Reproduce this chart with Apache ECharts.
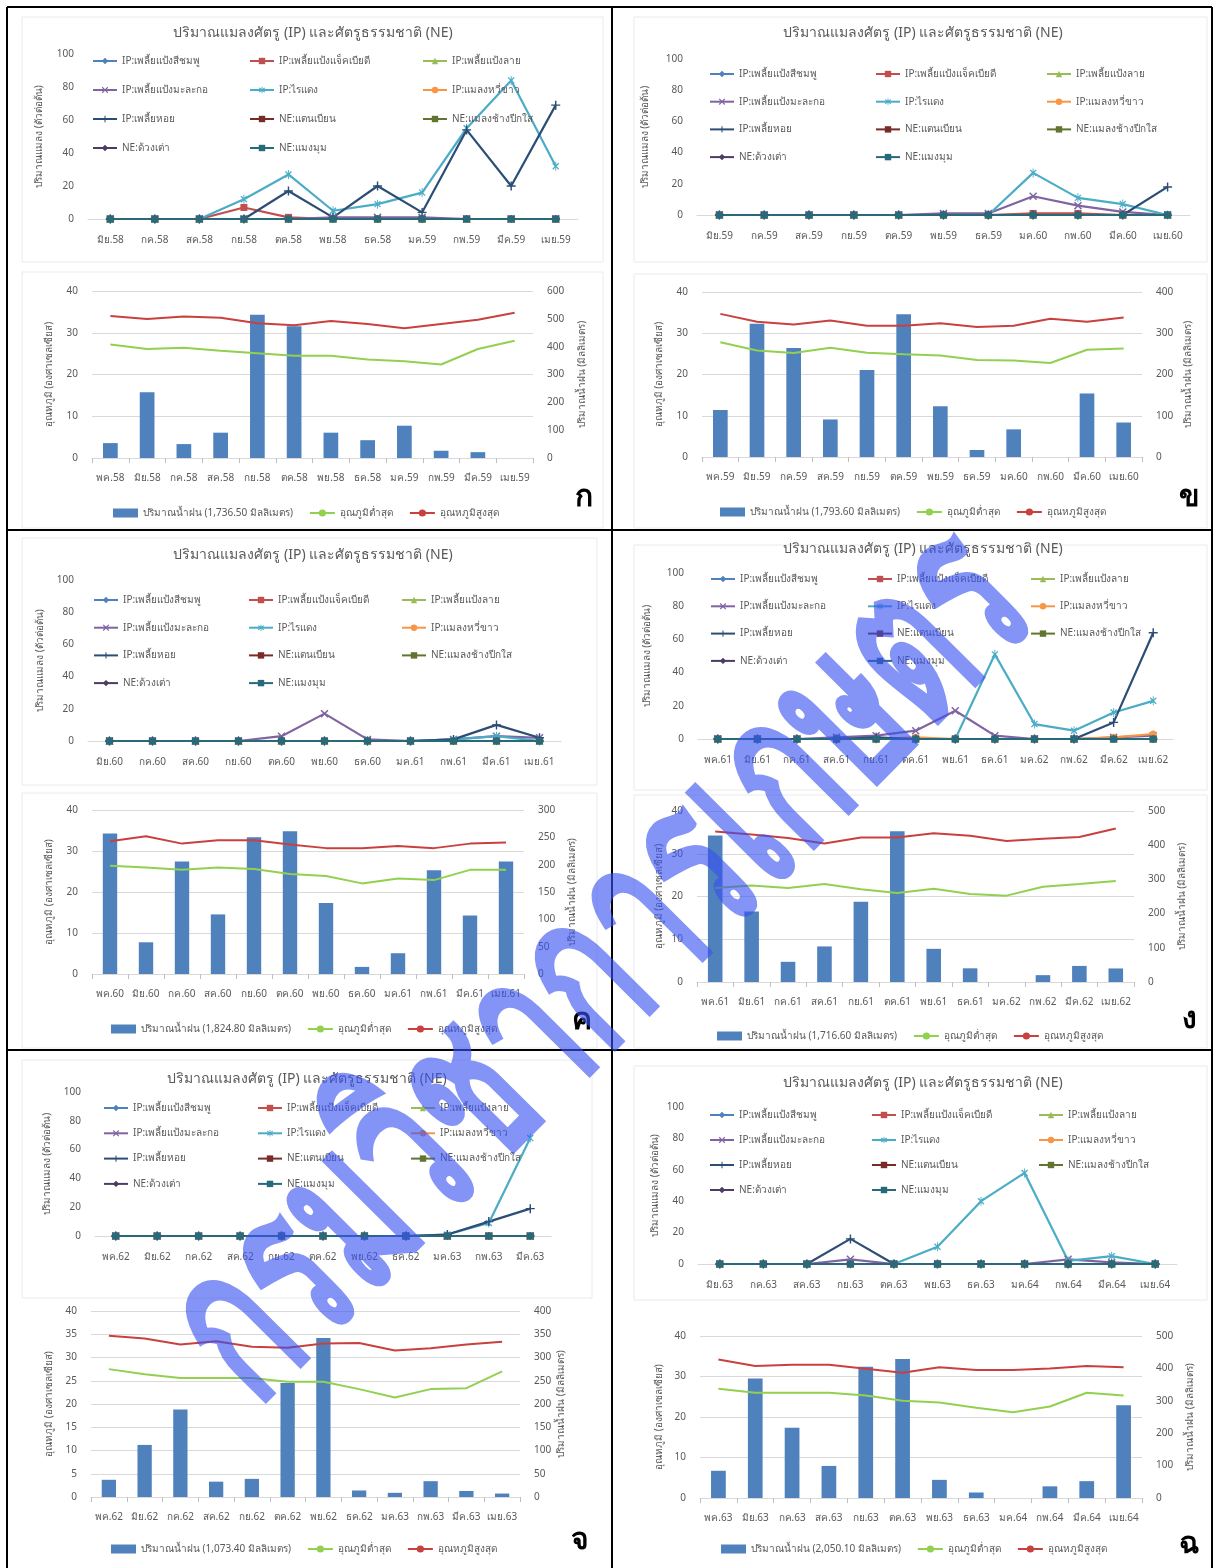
<!DOCTYPE html>
<html><head><meta charset="utf-8">
<script src="https://cdn.jsdelivr.net/npm/echarts@6.0.0/dist/echarts.min.js"></script>
<style>html,body{margin:0;padding:0;background:#fff}#c{width:1215px;height:1568px}</style>
</head><body><div id="c"></div>
<script>
const FONT = '"Noto Sans", "DejaVu Sans", sans-serif';

const PEST_NAMES = ['IP:เพลี้ยแป้งสีชมพู','IP:เพลี้ยแป้งแจ็คเบียดี','IP:เพลี้ยแป้งลาย','IP:เพลี้ยแป้งมะละกอ','IP:ไรแดง','IP:แมลงหวี่ขาว','IP:เพลี้ยหอย','NE:แตนเบียน','NE:แมลงช้างปีกใส','NE:ด้วงเต่า','NE:แมงมุม'];
const TITLE = 'ปริมาณแมลงศัตรู (IP) และศัตรูธรรมชาติ (NE)';
const TMIN_NAME = 'อุณภูมิต่ำสุด';
const TMAX_NAME = 'อุณหภูมิสูงสุด';
const PANEL_LETTERS = ['ก','ข','ค','ง','จ','ฉ'];

const ZERO11 = [0,0,0,0,0,0,0,0,0,0,0];
const ZERO12 = [0,0,0,0,0,0,0,0,0,0,0,0];

// ---- Panel ก ----
const catsTopA = ['มิย.58','กค.58','สค.58','กย.58','ตค.58','พย.58','ธค.58','มค.59','กพ.59','มีค.59','เมย.59'];
const aJack   = [0,0,0,7,1,0,0,0,0,0,0];
const aPapaya = [0,0,0,0,0,1,1,1,0,0,0];
const aMite   = [0,0,0,12,27,5,9,16,55,84,32];
const aScale  = [0,0,0,0,17,1,20,4,54,20,69];
const catsBotA = ['พค.58','มิย.58','กค.58','สค.58','กย.58','ตค.58','พย.58','ธค.58','มค.59','กพ.59','มีค.59','เมย.59'];
const aRain = [53.5,236,50,91,515,473,91,64,116,26,21,0];
const aTmin = [27.2,26.1,26.4,25.7,25.1,24.5,24.5,23.6,23.2,22.4,26.1,28.1];
const aTmax = [34.0,33.3,33.9,33.6,32.3,31.8,32.8,32.1,31.1,32.1,33.1,34.8];

// ---- Panel ข ----
const catsTopB = ['มิย.59','กค.59','สค.59','กย.59','ตค.59','พย.59','ธค.59','มค.60','กพ.60','มีค.60','เมย.60'];
const bJack   = [0,0,0,0,0,0,0,1,1,0,0];
const bPapaya = [0,0,0,0,0,1,1,12,6,2,0];
const bMite   = [0,0,0,0,0,0,0,27,11,7,0];
const bScale  = [0,0,0,0,0,0,0,0,0,0,18];
const catsBotB = ['พค.59','มิย.59','กค.59','สค.59','กย.59','ตค.59','พย.59','ธค.59','มค.60','กพ.60','มีค.60','เมย.60'];
const bRain = [114,323,264,91,211,346,123,17,67,0,154,83.6];
const bTmin = [27.8,25.8,25.2,26.5,25.3,24.9,24.6,23.5,23.4,22.8,26.0,26.3];
const bTmax = [34.7,32.8,32.1,33.1,31.8,31.8,32.4,31.5,31.8,33.5,32.8,33.8];

// ---- Panel ค ----
const catsTopC = ['มิย.60','กค.60','สค.60','กย.60','ตค.60','พย.60','ธค.60','มค.61','กพ.61','มีค.61','เมย.61'];
const cPapaya = [0,0,0,0,3,17,1,0,1,3,2];
const cMite   = [0,0,0,0,0,0,0,0,1,3,0];
const cScale  = [0,0,0,0,0,0,0,0,1,10,2];
const catsBotC = ['พค.60','มิย.60','กค.60','สค.60','กย.60','ตค.60','พย.60','ธค.60','มค.61','กพ.61','มีค.61','เมย.61'];
const cRain = [257,58,206,109,250,261,130,13,38,190,107,205.8];
const cTmin = [26.4,26.0,25.4,26.0,25.6,24.4,23.9,22.1,23.3,22.9,25.4,25.4];
const cTmax = [32.4,33.6,31.8,32.6,32.6,31.6,30.7,30.7,31.2,30.7,31.8,32.1];

// ---- Panel ง ----
const catsTopD = ['พค.61','มิย.61','กค.61','สค.61','กย.61','ตค.61','พย.61','ธค.61','มค.62','กพ.62','มีค.62','เมย.62'];
const dPapaya   = [0,0,0,1,2,5,17,2,0,0,1,2];
const dMite     = [0,0,0,0,0,0,0,51,9,5,16,23];
const dWhitefly = [0,0,0,0,0,1,0,0,0,0,1,3];
const dScale    = [0,0,0,0,1,0,0,0,0,0,10,64];
const catsBotD = ['พค.61','มิย.61','กค.61','สค.61','กย.61','ตค.61','พย.61','ธค.61','มค.62','กพ.62','มีค.62','เมย.62'];
const dRain = [428,206,59,104,235,441,97,40,0,20,47,39.6];
const dTmin = [22.0,22.6,22.0,22.9,21.7,20.8,21.8,20.6,20.2,22.3,22.9,23.6];
const dTmax = [35.2,34.5,33.7,32.4,33.8,33.8,34.8,34.2,33.0,33.5,33.9,35.9];

// ---- Panel จ ----
const catsTopE = ['พค.62','มิย.62','กค.62','สค.62','กย.62','ตค.62','พย.62','ธค.62','มค.63','กพ.63','มีค.63'];
const eMite  = [0,0,0,0,0,0,0,0,1,9,68];
const eScale = [0,0,0,0,0,0,0,0,1,10,19];
const catsBotE = ['พค.62','มิย.62','กค.62','สค.62','กย.62','ตค.62','พย.62','ธค.62','มค.63','กพ.63','มีค.63','เมย.63'];
const eRain = [37,112,188,33,39,245,342,14,9,34,13,7.4];
const eTmin = [27.5,26.4,25.6,25.6,25.6,24.8,24.8,23.2,21.4,23.2,23.4,27.0];
const eTmax = [34.7,34.1,32.8,33.5,32.3,32.1,33.0,33.1,31.5,32.0,32.8,33.4];

// ---- Panel ฉ ----
const catsTopF = ['มิย.63','กค.63','สค.63','กย.63','ตค.63','พย.63','ธค.63','มค.64','กพ.64','มีค.64','เมย.64'];
const fPapaya = [0,0,0,3,0,0,0,0,3,1,0];
const fMite   = [0,0,0,0,0,11,40,58,2,5,0];
const fScale  = [0,0,0,16,0,0,0,0,0,0,0];
const catsBotF = ['พค.63','มิย.63','กค.63','สค.63','กย.63','ตค.63','พย.63','ธค.63','มค.64','กพ.64','มีค.64','เมย.64'];
const fRain = [84,369,217,99,405,429,56,17,0,36,52,286.1];
const fTmin = [27.0,26.0,26.0,26.0,25.3,24.0,23.6,22.3,21.2,22.6,26.0,25.3];
const fTmax = [34.2,32.6,32.9,32.9,31.9,30.9,32.3,31.6,31.6,32.0,32.6,32.3];

const RAIN_NAMES = ['ปริมาณน้ำฝน (1,736.50 มิลลิเมตร)','ปริมาณน้ำฝน (1,793.60 มิลลิเมตร)','ปริมาณน้ำฝน (1,824.80 มิลลิเมตร)','ปริมาณน้ำฝน (1,716.60 มิลลิเมตร)','ปริมาณน้ำฝน (1,073.40 มิลลิเมตร)','ปริมาณน้ำฝน (2,050.10 มิลลิเมตร)'];

const panels = [
  {cats: catsTopA, pest: [ZERO11,aJack,ZERO11,aPapaya,aMite,ZERO11,aScale,ZERO11,ZERO11,ZERO11,ZERO11], botCats: catsBotA, rain: aRain, tmin: aTmin, tmax: aTmax},
  {cats: catsTopB, pest: [ZERO11,bJack,ZERO11,bPapaya,bMite,ZERO11,bScale,ZERO11,ZERO11,ZERO11,ZERO11], botCats: catsBotB, rain: bRain, tmin: bTmin, tmax: bTmax},
  {cats: catsTopC, pest: [ZERO11,ZERO11,ZERO11,cPapaya,cMite,ZERO11,cScale,ZERO11,ZERO11,ZERO11,ZERO11], botCats: catsBotC, rain: cRain, tmin: cTmin, tmax: cTmax},
  {cats: catsTopD, pest: [ZERO12,ZERO12,ZERO12,dPapaya,dMite,dWhitefly,dScale,ZERO12,ZERO12,ZERO12,ZERO12], botCats: catsBotD, rain: dRain, tmin: dTmin, tmax: dTmax},
  {cats: catsTopE, pest: [ZERO11,ZERO11,ZERO11,ZERO11,eMite,ZERO11,eScale,ZERO11,ZERO11,ZERO11,ZERO11], botCats: catsBotE, rain: eRain, tmin: eTmin, tmax: eTmax},
  {cats: catsTopF, pest: [ZERO11,ZERO11,ZERO11,fPapaya,fMite,ZERO11,fScale,ZERO11,ZERO11,ZERO11,ZERO11], botCats: catsBotF, rain: fRain, tmin: fTmin, tmax: fTmax}
];

// ---- layout (pixel positions) ----
const layouts = [
  {top:{l:88,r:578,t:54,b:219}, title:[313,33], legY:61, legGap:29, legCols:[92,249,422], yNameX:39,
   bot:{l:92,r:533,t:291,b:458}, tStep:10, rMax:600, rStep:100, legBX:113, legBY:513, nameLX:49, nameRX:582, letter:[584,497],
   box:[[22,17,581,245],[22,272,581,256]]},
  {top:{l:697,r:1190,t:59,b:215}, title:[923,33], legY:74, legGap:27.7, legCols:[709,875,1046], yNameX:645,
   bot:{l:702,r:1142,t:292,b:457}, tStep:10, rMax:400, rStep:100, legBX:720, legBY:512, nameLX:659, nameRX:1188, letter:[1189,497],
   box:[[634,17,573,245],[634,274,573,254]]},
  {top:{l:88,r:561,t:580,b:741}, title:[313,555], legY:600, legGap:27.7, legCols:[93,248,401], yNameX:40,
   bot:{l:92,r:524,t:810,b:974}, tStep:10, rMax:300, rStep:50, legBX:111, legBY:1029, nameLX:49, nameRX:572, letter:[582,1020],
   box:[[22,538,575,247],[22,793,575,255]]},
  {top:{l:698,r:1173,t:573,b:739}, title:[923,549], legY:579, legGap:27.3, legCols:[710,867,1030], yNameX:647,
   bot:{l:697,r:1134,t:811,b:982}, tStep:10, rMax:500, rStep:100, legBX:717, legBY:1036, nameLX:659, nameRX:1182, letter:[1189,1019],
   box:[[634,545,573,245],[634,795,573,253]]},
  {top:{l:95,r:551,t:1092,b:1236}, title:[307,1079], legY:1108, legGap:25.3, legCols:[103,257,410], yNameX:47,
   bot:{l:91,r:520,t:1311,b:1497}, tStep:5, rMax:400, rStep:50, legBX:111, legBY:1549, nameLX:49, nameRX:561, letter:[580,1540],
   box:[[22,1060,570,238]]},
  {top:{l:698,r:1177,t:1107,b:1264}, title:[923,1083], legY:1115, legGap:25, legCols:[709,871,1038], yNameX:655,
   bot:{l:700,r:1142,t:1336,b:1498}, tStep:10, rMax:500, rStep:100, legBX:721, legBY:1549, nameLX:659, nameRX:1190, letter:[1189,1544],
   box:[[634,1066,573,234]]}
];

const SYM_X = 'path://M0,1.3L1.3,0L5,3.7L8.7,0L10,1.3L6.3,5L10,8.7L8.7,10L5,6.3L1.3,10L0,8.7L3.7,5Z';
const SYM_STAR = 'path://M0,1.3L1.3,0L5,3.7L8.7,0L10,1.3L6.3,5L10,8.7L8.7,10L5,6.3L1.3,10L0,8.7L3.7,5Z M4.35,-1.5L5.65,-1.5L5.65,11.5L4.35,11.5Z';
const SYM_PLUS = 'path://M4.2,0L5.8,0L5.8,4.2L10,4.2L10,5.8L5.8,5.8L5.8,10L4.2,10L4.2,5.8L0,5.8L0,4.2L4.2,4.2Z';
const PEST_COL = ['#4F81BD','#C0504D','#9BBB59','#8064A2','#4BACC6','#F79646','#2C4D75','#772C2A','#5F7530','#4D3B62','#276A7C'];
const PEST_SYM = ['diamond','rect','triangle',SYM_X,SYM_STAR,'circle',SYM_PLUS,'rect','rect','diamond','rect'];
const PEST_SIZE = [8,7,8,8,9,7,9,[8,2.5],[8,2.5],8,7];

const GRAY = '#595959';
const option = {
  animation: false, backgroundColor: '#ffffff',
  textStyle: {fontFamily: FONT},
  grid: [], xAxis: [], yAxis: [], series: [], legend: [], graphic: []
};
const G = option.graphic;

panels.forEach((p, i) => {
  const L = layouts[i];
  // faint chart-area borders
  L.box.forEach(b => G.push({type: 'rect', z: 1, shape: {x: b[0], y: b[1], width: b[2], height: b[3]},
    style: {fill: 'none', stroke: '#EAEAEA', lineWidth: 1}}));
  // ---------- top pest chart ----------
  const gi = option.grid.length;
  option.grid.push({left: L.top.l, top: L.top.t, width: L.top.r - L.top.l, height: L.top.b - L.top.t, outerBoundsMode: 'none'});
  option.xAxis.push({gridIndex: gi, type: 'category', data: p.cats, boundaryGap: true,
    axisLine: {lineStyle: {color: '#D9D9D9', width: 1}}, axisTick: {show: false},
    axisLabel: {interval: 0, color: GRAY, fontSize: 10, margin: 16, fontFamily: FONT}});
  const yi = option.yAxis.length;
  option.yAxis.push({gridIndex: gi, type: 'value', min: 0, max: 100, interval: 20,
    splitLine: {show: false}, axisLine: {show: false}, axisTick: {show: false},
    axisLabel: {color: GRAY, fontSize: 10, margin: 14, fontFamily: FONT}});
  p.pest.forEach((arr, k) => {
    option.series.push({type: 'line', name: PEST_NAMES[k], xAxisIndex: gi, yAxisIndex: yi, data: arr,
      symbol: PEST_SYM[k], symbolSize: PEST_SIZE[k], showAllSymbol: true, symbolKeepAspect: true,
      lineStyle: {width: 2.2, color: PEST_COL[k]}, itemStyle: {color: PEST_COL[k]},
      emphasis: {disabled: true}});
  });
  [[0,3,6,9],[1,4,7,10],[2,5,8]].forEach((idxs, c) => {
    option.legend.push({orient: 'vertical', left: L.legCols[c], top: L.legY - 6, padding: 0,
      itemGap: L.legGap - 12, itemWidth: 24, itemHeight: 8, selectedMode: false,
      textStyle: {fontSize: 10, color: GRAY, lineHeight: 12, fontFamily: FONT},
      data: idxs.map(k => PEST_NAMES[k])});
  });
  G.push({type: 'text', x: L.title[0], y: L.title[1], z: 50,
    style: {text: TITLE, fill: GRAY, fontSize: 14, fontFamily: FONT, align: 'center', verticalAlign: 'middle'}});
  G.push({type: 'text', x: L.yNameX, y: (L.top.t + L.top.b) / 2, rotation: Math.PI / 2, z: 50,
    style: {text: 'ปริมาณแมลง (ตัวต่อต้น)', fill: GRAY, fontSize: 10, fontFamily: FONT, align: 'center', verticalAlign: 'middle'}});

  // ---------- bottom weather chart ----------
  const gb = option.grid.length;
  option.grid.push({left: L.bot.l, top: L.bot.t, width: L.bot.r - L.bot.l, height: L.bot.b - L.bot.t, outerBoundsMode: 'none'});
  option.xAxis.push({gridIndex: gb, type: 'category', data: p.botCats, boundaryGap: true,
    axisLine: {lineStyle: {color: '#D9D9D9', width: 1}},
    axisTick: {show: true, length: 5, lineStyle: {color: '#BFBFBF'}},
    axisLabel: {interval: 0, color: GRAY, fontSize: 10, margin: 15, fontFamily: FONT}});
  const yl = option.yAxis.length;
  option.yAxis.push({gridIndex: gb, type: 'value', min: 0, max: 40, interval: L.tStep,
    splitLine: {show: true, lineStyle: {color: '#D9D9D9', width: 1}}, axisLine: {show: false}, axisTick: {show: false},
    axisLabel: {color: GRAY, fontSize: 10, margin: 14, fontFamily: FONT}});
  option.yAxis.push({gridIndex: gb, type: 'value', position: 'right', min: 0, max: L.rMax, interval: L.rStep,
    splitLine: {show: false}, axisLine: {show: false}, axisTick: {show: false},
    axisLabel: {color: GRAY, fontSize: 10, margin: 14, fontFamily: FONT}});
  option.series.push({type: 'bar', name: RAIN_NAMES[i], xAxisIndex: gb, yAxisIndex: yl + 1, data: p.rain,
    barWidth: '40%', itemStyle: {color: '#4F81BD'}, emphasis: {disabled: true}});
  option.series.push({type: 'line', name: TMIN_NAME, xAxisIndex: gb, yAxisIndex: yl, data: p.tmin,
    symbol: 'none', lineStyle: {width: 2, color: '#92D050'}, itemStyle: {color: '#92D050'}, emphasis: {disabled: true}});
  option.series.push({type: 'line', name: TMAX_NAME, xAxisIndex: gb, yAxisIndex: yl, data: p.tmax,
    symbol: 'none', lineStyle: {width: 2, color: '#C9413F'}, itemStyle: {color: '#C9413F'}, emphasis: {disabled: true}});
  option.legend.push({orient: 'horizontal', left: L.legBX, top: L.legBY - 6, padding: 0,
    itemGap: 16, itemWidth: 25, itemHeight: 9, selectedMode: false,
    textStyle: {fontSize: 10, color: GRAY, lineHeight: 12, fontFamily: FONT},
    data: [{name: RAIN_NAMES[i], icon: 'rect'}, TMIN_NAME, TMAX_NAME]});
  const midB = (L.bot.t + L.bot.b) / 2;
  G.push({type: 'text', x: L.nameLX, y: midB, rotation: Math.PI / 2, z: 50,
    style: {text: 'อุณหภูมิ (องศาเซลเซียส)', fill: GRAY, fontSize: 10, fontFamily: FONT, align: 'center', verticalAlign: 'middle'}});
  G.push({type: 'text', x: L.nameRX, y: midB, rotation: Math.PI / 2, z: 50,
    style: {text: 'ปริมาณน้ำฝน (มิลลิเมตร)', fill: GRAY, fontSize: 10, fontFamily: FONT, align: 'center', verticalAlign: 'middle'}});
  G.push({type: 'text', x: L.letter[0], y: L.letter[1], z: 50,
    style: {text: PANEL_LETTERS[i], fill: '#000', fontSize: 30, fontWeight: 'bold', fontFamily: FONT, align: 'center', verticalAlign: 'middle'}});
});

// panel frame lines
const frame = [[7,7,1212,7],[7,530,1212,530],[7,1050,1212,1050],[7,7,7,1568],[612,7,612,1568],[1212,7,1212,1568]];
frame.forEach(f => G.push({type: 'line', z: 60, shape: {x1: f[0], y1: f[1], x2: f[2], y2: f[3]}, style: {stroke: '#000', lineWidth: 2}}));

// watermark
G.push({type: 'text', x: 603, y: 968, rotation: 0.79, scaleX: 0.86, scaleY: 1.4, z: 100,
  style: {text: 'กรมวิชาการเกษตร', fill: 'rgba(55,80,240,0.62)',
    fontSize: 160, fontWeight: 'bold', fontFamily: FONT, align: 'center', verticalAlign: 'middle'}});

const chart = echarts.init(document.getElementById('c'), null, {renderer: 'canvas', width: 1215, height: 1568});
chart.setOption(option);
</script>
</body></html>
